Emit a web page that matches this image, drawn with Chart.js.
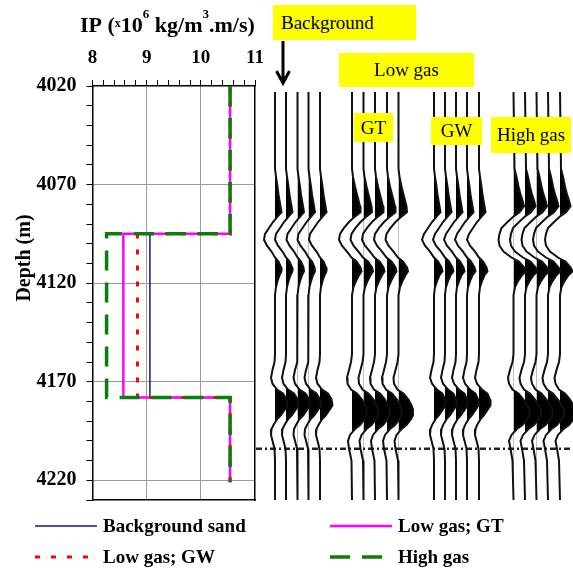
<!DOCTYPE html>
<html>
<head>
<meta charset="utf-8">
<script src="https://cdn.jsdelivr.net/npm/chart.js@4.4.0/dist/chart.umd.min.js"></script>
<style>
  body { margin: 0; background: #fff; }
  #wrap { position: relative; width: 573px; height: 569px; overflow: hidden; }
  #wrap canvas { position: absolute; left: 0; top: 0; }
  .tag {
    position: absolute; background: #ffff00; color: #000;
    font: 19px "Liberation Serif", "Times New Roman", serif;
    display: flex; align-items: center; justify-content: center;
    z-index: 5; white-space: nowrap;
  }
</style>
</head>
<body>
<div id="wrap">
  <canvas id="ipChart" width="573" height="569"></canvas>
  <canvas id="seisChart" width="573" height="569"></canvas>
  <div class="tag" style="left:273px;top:5px;width:143px;height:35px;justify-content:flex-start;padding-left:8px;box-sizing:border-box;">Background</div>
  <div class="tag" style="left:339px;top:53px;width:135px;height:34px;">Low gas</div>
  <div class="tag" style="left:354px;top:113px;width:39px;height:29px;">GT</div>
  <div class="tag" style="left:431px;top:117px;width:51px;height:28px;">GW</div>
  <div class="tag" style="left:491px;top:117px;width:80px;height:36px;">High gas</div>
</div>
<script>
// impedance logs (x10^6 kg/m3.m/s) at the step depths (m)
const depthKnots = [4020, 4095, 4095, 4178, 4178, 4221];
const backgroundSand = [10.54, 10.54, 9.06, 9.06, 10.54, 10.54];
const lowGasGT = [10.54, 10.54, 8.57, 8.57, 10.54, 10.54];
const lowGasGW = [10.54, 10.54, 8.83, 8.83, 10.54, 10.54];
const highGas = [10.54, 10.54, 8.26, 8.26, 10.54, 10.54];

// synthetic gathers: sample depths and wiggle amplitude per model
const sampleDepth = [4023, 4062, 4066, 4071, 4075, 4078, 4081, 4084, 4086, 4089, 4092, 4095, 4098, 4101,
  4104, 4107, 4109, 4112, 4114, 4116, 4119, 4122, 4126, 4156, 4160, 4164, 4168, 4171, 4174, 4176,
  4179, 4182, 4184, 4187, 4189, 4192, 4194, 4197, 4200, 4204, 4210, 4230];
const ampBackground = [0, 0, 1, 2.5, 3.5, 4.5, 5.5, 6.5, 3, -2, -6, -10, -11, -8,
  -3.5, 0, 3.5, 6, 6.5, 4.5, 2.5, 1, 0, 0, -0.5, -2.5, -4, -2.5, 2, 8,
  11.5, 12.5, 10, 6, 2, -1.5, -3.5, -4, -2.5, -0.5, 0, 0];
const ampLowGT = [0, 0, 1, 3, 5, 6.5, 8, 8.5, 3.5, -3, -8, -12, -13, -10,
  -5, -0.5, 4.5, 8.5, 9.5, 7, 4, 1.5, 0, 0, -1, -3, -5, -4.5, -1, 5,
  10, 13, 14.5, 14.5, 12.5, 8, 3, -2, -4, -3, -0.5, 0];
const ampLowGW = [0, 0, 1, 2.5, 3.5, 4.5, 5.5, 6.5, 3, -2, -6, -10, -12, -9,
  -4, 0, 4, 7.5, 8.5, 5.5, 3, 1, 0, 0, -0.5, -2.5, -4, -2, 3, 8.5,
  11, 11.5, 9, 5, 1.5, -2, -3.5, -4, -2.5, -0.5, 0, 0];
const ampHighGas = [0, 1, 3, 5, 7, 9, 10.5, 6, 0.5, -6, -12, -14, -15, -14,
  -10, -2, 5.5, 10.5, 12.5, 8.5, 4.5, 1.5, 0, 0, -1, -3.5, -5.5, -4.5, -1, 5,
  10, 13.5, 16, 16, 13.5, 9, 3.5, -2, -4.5, -3, -1, 0];

// trace positions across the gather panel
const offsetsBackground = [19, 30, 41.5, 52.5, 64];
const offsetsLowGT = [96, 107.5, 119, 131, 142.5];
const offsetsLowGW = [178, 189, 200, 211, 223];
const offsetsHighGas = [257.5, 269, 280.5, 292, 304];
const markerDepth = 4204;

const serif = '"Liberation Serif", "Times New Roman", serif';
const isInt = v => Math.abs(v - Math.round(v)) < 1e-6;

function logSet(label, values, color, width, dash, order) {
  return {
    label, order,
    data: values.map((v, i) => ({ x: v, y: depthKnots[i] })),
    showLine: true, borderColor: color, backgroundColor: color,
    borderWidth: width, borderDash: dash, pointRadius: 0, fill: false
  };
}

// titles and legend for the impedance panel
const panelText = {
  id: 'panelText',
  afterDraw(chart) {
    const ctx = chart.ctx;
    ctx.save();
    ctx.fillStyle = '#000';
    ctx.textBaseline = 'alphabetic';
    ctx.textAlign = 'left';
    const parts = [['IP (', 22, 0], ['x', 12, 5], ['10', 22, 0], ['6', 13, 14],
      [' kg/m', 22, 0], ['3', 13, 14], ['.m/s)', 22, 0]];
    let x = 80;
    parts.forEach(([t, size, rise]) => {
      ctx.font = 'bold ' + size + 'px ' + serif;
      ctx.fillText(t, x, 32 - rise);
      x += ctx.measureText(t).width;
    });

    ctx.save();
    ctx.translate(25, 258);
    ctx.rotate(-Math.PI / 2);
    ctx.textAlign = 'center';
    ctx.textBaseline = 'middle';
    ctx.font = 'bold 20px ' + serif;
    ctx.fillText('Depth (m)', 0, 0);
    ctx.restore();

    const slots = [[35, 526], [330, 526], [35, 557], [330, 557]];
    ctx.font = 'bold 19px ' + serif;
    ctx.textBaseline = 'middle';
    chart.data.datasets.forEach((ds, i) => {
      const [lx, ly] = slots[i];
      ctx.save();
      ctx.strokeStyle = ds.borderColor;
      ctx.lineWidth = ds.borderWidth;
      ctx.setLineDash(ds.borderDash);
      ctx.beginPath();
      ctx.moveTo(lx, ly);
      ctx.lineTo(lx + 62, ly);
      ctx.stroke();
      ctx.restore();
      ctx.fillText(ds.label, lx + 68, ly + 1);
    });
    ctx.restore();
  }
};

new Chart(document.getElementById('ipChart'), {
  type: 'scatter',
  data: {
    datasets: [
      logSet('Background sand', backgroundSand, '#16167f', 1.5, [], 3),
      logSet('Low gas; GT', lowGasGT, '#ff00ff', 2.5, [], 2),
      logSet('Low gas; GW', lowGasGW, '#ff0000', 3, [5, 11], 1),
      logSet('High gas', highGas, '#0b7d0b', 3.5, [20, 12], 0)
    ]
  },
  options: {
    responsive: false,
    animation: false,
    layout: { padding: { left: 0, top: 0, right: 318, bottom: 69 } },
    plugins: { legend: { display: false }, tooltip: { enabled: false } },
    scales: {
      x: {
        type: 'linear', position: 'top', min: 8, max: 11,
        afterFit: s => { s.height = 86; },
        ticks: {
          stepSize: 0.2, autoSkip: false, maxRotation: 0, padding: 11, color: '#000',
          font: { family: serif, size: 19, weight: 'bold' },
          callback: v => isInt(v) ? String(Math.round(v)) : ''
        },
        grid: {
          tickLength: 6, tickColor: '#000', lineWidth: 1,
          color: c => (c.tick && isInt(c.tick.value) && c.tick.value > 8 && c.tick.value < 11) ? '#9a9a9a' : 'rgba(0,0,0,0)'
        },
        border: { color: '#000', width: 1.5 }
      },
      y: {
        type: 'linear', position: 'left', min: 4020, max: 4230, reverse: true,
        afterFit: s => { s.width = 92.5; },
        ticks: {
          stepSize: 10, autoSkip: false, padding: 10, color: '#000',
          font: { family: serif, size: 20, weight: 'bold' },
          callback: v => ((v - 4020) % 50 === 0) ? String(v) : ''
        },
        grid: {
          tickLength: 6, tickColor: '#000', lineWidth: 1,
          color: c => (c.tick && (c.tick.value - 4020) % 50 === 0 && c.tick.value > 4020) ? '#9a9a9a' : 'rgba(0,0,0,0)'
        },
        border: { color: '#000', width: 1.5 }
      },
      x2: {
        type: 'linear', position: 'bottom',
        afterFit: s => { s.height = 0; },
        ticks: { display: false },
        grid: { drawOnChartArea: false, drawTicks: false },
        border: { color: '#000', width: 1.5 }
      },
      y2: {
        type: 'linear', position: 'right',
        afterFit: s => { s.width = 0; },
        ticks: { display: false },
        grid: { drawOnChartArea: false, drawTicks: false },
        border: { color: '#000', width: 1.5 }
      }
    }
  },
  plugins: [panelText]
});

// positive half of each wiggle filled black
const variableArea = {
  id: 'variableArea',
  beforeDatasetsDraw(chart) {
    const { ctx, scales: { x } } = chart;
    chart.data.datasets.forEach((ds, i) => {
      if (ds.traceBase === undefined) return;
      const pts = chart.getDatasetMeta(i).data;
      const bx = x.getPixelForValue(ds.traceBase);
      ctx.save();
      ctx.beginPath();
      ctx.rect(bx, 0, chart.width - bx, chart.height);
      ctx.clip();
      ctx.beginPath();
      ctx.moveTo(bx, pts[0].y);
      pts.forEach(p => ctx.lineTo(p.x, p.y));
      ctx.lineTo(bx, pts[pts.length - 1].y);
      ctx.closePath();
      ctx.fillStyle = '#000';
      ctx.fill();
      ctx.restore();
    });
  },
  afterDraw(chart) {
    // arrow under the "Background" tag
    const ctx = chart.ctx;
    ctx.save();
    ctx.strokeStyle = '#000';
    ctx.lineWidth = 3;
    ctx.beginPath();
    ctx.moveTo(283, 41);
    ctx.lineTo(283, 81);
    ctx.moveTo(276.5, 71);
    ctx.lineTo(283, 83);
    ctx.lineTo(289.5, 71);
    ctx.stroke();
    ctx.restore();
  }
};

const gathers = [
  [offsetsBackground, ampBackground],
  [offsetsLowGT, ampLowGT],
  [offsetsLowGW, ampLowGW],
  [offsetsHighGas, ampHighGas]
];
const traceSets = [];
gathers.forEach(([offsets, amps]) => {
  offsets.forEach(off => {
    traceSets.push({
      traceBase: off,
      data: sampleDepth.map((d, i) => ({ x: off + amps[i], y: d })),
      showLine: true, borderColor: '#111', borderWidth: 2,
      pointRadius: 0, fill: false, clip: false
    });
  });
});
traceSets.push({
  data: [{ x: 0, y: markerDepth }, { x: 317, y: markerDepth }],
  showLine: true, borderColor: '#222', borderWidth: 2.5,
  borderDash: [6, 3, 2, 3], pointRadius: 0, fill: false, clip: false
});

new Chart(document.getElementById('seisChart'), {
  type: 'scatter',
  data: { datasets: traceSets },
  options: {
    responsive: false,
    animation: false,
    layout: { padding: { left: 256, right: 0, top: 86, bottom: 69 } },
    plugins: { legend: { display: false }, tooltip: { enabled: false } },
    scales: {
      x: { type: 'linear', display: false, min: 0, max: 317 },
      y: { type: 'linear', display: false, min: 4020, max: 4230, reverse: true }
    }
  },
  plugins: [variableArea]
});
</script>
</body>
</html>
